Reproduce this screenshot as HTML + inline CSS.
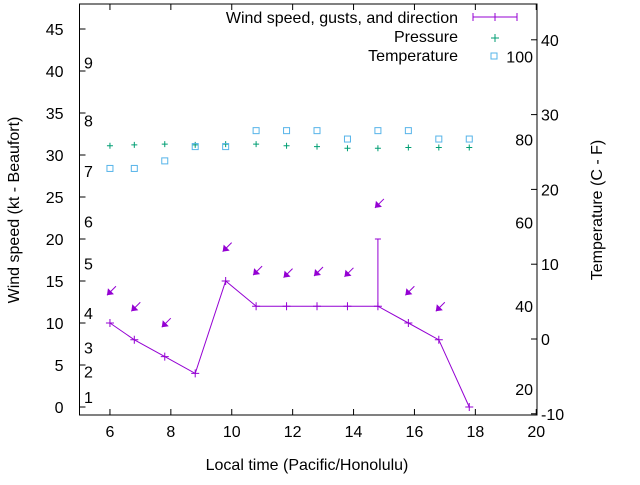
<!DOCTYPE html>
<html><head><meta charset="utf-8"><style>
body{margin:0;background:#fff}
svg{font-family:"Liberation Sans",sans-serif;font-size:16px}
</style></head><body>
<svg id="c" width="640" height="480" xmlns="http://www.w3.org/2000/svg"></svg>
<script>
const times=[6,6.8,7.8,8.8,9.8,10.8,11.8,12.8,13.8,14.8,15.8,16.8,17.8];
const wind=[10,8,6,4,15,12,12,12,12,12,10,8,0];
const gusts=[null,null,null,null,null,null,null,null,null,20,null,null,null];
const arrowY=[13.3,11.4,9.5,null,18.5,15.7,15.4,15.6,15.5,23.7,13.3,11.4,null];
const pressure=[31.1,31.2,31.3,31.2,31.3,31.3,31.1,31.0,30.8,30.8,30.9,30.9,30.9];
const temperature=[28.4,28.4,29.3,31.0,31.0,32.9,32.9,32.9,31.9,32.9,32.9,31.9,31.9];
const xTicks=[6,8,10,12,14,16,18,20];
const yTicks=[0,5,10,15,20,25,30,35,40,45];
const cTicks=[-10,0,10,20,30,40];
const fTicks=[20,40,60,80,100];
const beaufort=[1,2,3,4,5,6,7,8,9];
const beaufortY=[1.2,4.2,7.1,11.2,17.1,22.1,28.1,34.1,41];
const L=79.5,R=537,T=4,B=415;
const X=v=>79.5+(v-5)*30.45;
const Y=v=>407-v*8.4;
const YC=c=>339-c*7.48;
const YF=f=>YC((f-32)*5/9);
const s=document.getElementById('c');const NS='http://www.w3.org/2000/svg';
function el(t,a,txt){const e=document.createElementNS(NS,t);for(const k in a)e.setAttribute(k,a[k]);if(txt!=null)e.textContent=txt;s.appendChild(e);return e;}
let e=el('rect',{x:L,y:T,width:R-L,height:B-T,fill:'none',stroke:'#000'});


xTicks.forEach(v=>{
 el('line',{x1:X(v),x2:X(v),y1:B,y2:B-6,stroke:'#000'});el('line',{x1:X(v),x2:X(v),y1:T,y2:T+6,stroke:'#000'});
 e=el('text',{x:X(v),y:B+22,'text-anchor':'middle'},v);
 
 
});
yTicks.forEach(v=>{
 el('line',{x1:L,x2:L+6,y1:Y(v),y2:Y(v),stroke:'#000'});
 e=el('text',{x:L-16,y:Y(v)+6,'text-anchor':'end'},v);
 
 
});
cTicks.forEach(v=>{
 el('line',{x1:R,x2:R-6,y1:YC(v),y2:YC(v),stroke:'#000'});
 e=el('text',{x:R+4,y:YC(v)+6},v);
 
 
});
fTicks.forEach(v=>{
 e=el('text',{x:R-4,y:YF(v)+6,'text-anchor':'end'},v);
 
 
});
beaufort.forEach((b,i)=>{
 e=el('text',{x:84,y:Y(beaufortY[i])+6},b);
 
 
});
const P='#9400d3';
e=el('polyline',{points:times.map((t,i)=>X(t)+','+Y(wind[i])).join(' '),fill:'none',stroke:P});


times.forEach((t,i)=>{
 e=el('path',{d:`M${X(t)-4},${Y(wind[i])}h8M${X(t)},${Y(wind[i])-4}v8`,stroke:P});
 
 
 if(gusts[i]!=null){
  e=el('path',{d:`M${X(t)},${Y(wind[i])}V${Y(gusts[i])}M${X(t)-3},${Y(gusts[i])}h6`,stroke:P});
  
  
 }
 if(arrowY[i]!=null){
  const x=X(t)-3,y=Y(arrowY[i]);
  e=el('g',{});
  
  
  const l=document.createElementNS(NS,'path');l.setAttribute('d',`M${x},${y}l9,-9`);l.setAttribute('stroke',P);e.appendChild(l);
  const h=document.createElementNS(NS,'path');h.setAttribute('d',`M${x},${y}l1,-7l6,6z`);h.setAttribute('fill',P);e.appendChild(h);
 }
 e=el('path',{d:`M${X(t)-3},${Y(pressure[i])}h6M${X(t)},${Y(pressure[i])-3}v6`,stroke:'#009e73'});
 
 
 e=el('rect',{x:X(t)-3,y:Y(temperature[i])-3,width:6,height:6,fill:'none',stroke:'#56b4e9'});
 
 
});
e=el('text',{x:458,y:23,'text-anchor':'end'},'Wind speed, gusts, and direction');

el('path',{d:'M473,17h44M473,13v8M517,13v8M495,13v8',stroke:P});
e=el('text',{x:458,y:42,'text-anchor':'end'},'Pressure');

el('path',{d:'M491,38h8M495,34v8',stroke:'#009e73'});
e=el('text',{x:458,y:61,'text-anchor':'end'},'Temperature');

el('rect',{x:491,y:53,width:6,height:6,fill:'none',stroke:'#56b4e9'});
e=el('text',{x:307,y:470,'text-anchor':'middle'},'Local time (Pacific/Honolulu)');

e=el('text',{x:0,y:0,'text-anchor':'middle',transform:'translate(19,210) rotate(-90)'},'Wind speed (kt - Beaufort)');

e=el('text',{x:0,y:0,'text-anchor':'middle',transform:'translate(602,210) rotate(-90)'},'Temperature (C - F)');

</script>
</body></html>
